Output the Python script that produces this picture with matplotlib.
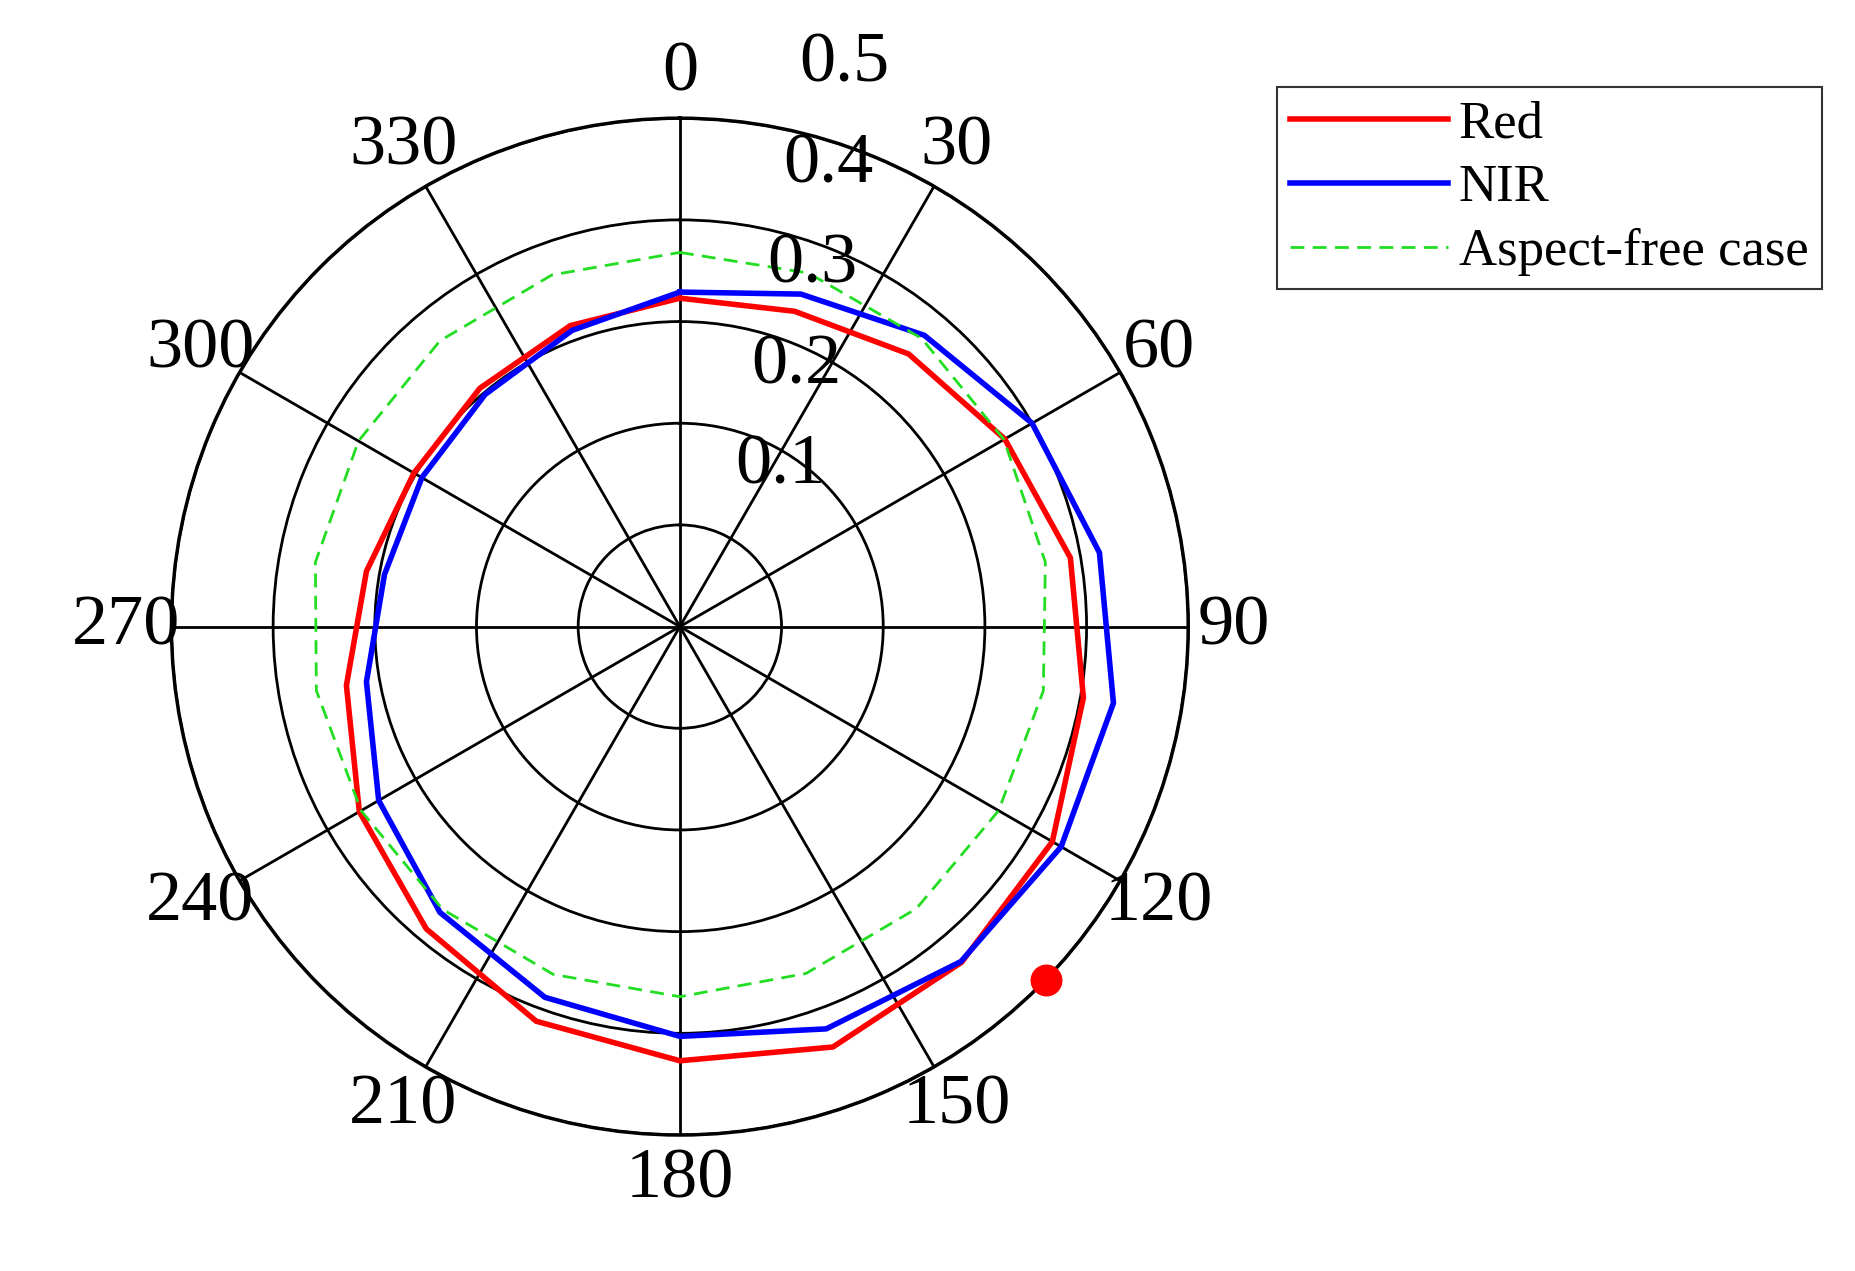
import numpy as np
import matplotlib
matplotlib.use("Agg")
import matplotlib.pyplot as plt
from matplotlib.transforms import offset_copy

plt.rcParams['font.family'] = ['Liberation Serif', 'DejaVu Serif']

angles_deg = [0, 20, 40, 60, 80, 100, 120, 140, 160, 180, 200, 220, 240, 260, 280, 300, 320, 340]
red = [0.323, 0.330, 0.350, 0.369, 0.390, 0.403, 0.423, 0.431, 0.440, 0.427, 0.413, 0.388, 0.364, 0.333, 0.313, 0.302, 0.306, 0.315]
nir = [0.329, 0.348, 0.374, 0.400, 0.419, 0.433, 0.433, 0.430, 0.421, 0.403, 0.388, 0.367, 0.342, 0.313, 0.295, 0.293, 0.298, 0.310]
aspect_free = [0.368, 0.370, 0.370, 0.368, 0.365, 0.363, 0.362, 0.362, 0.363, 0.364, 0.364, 0.363, 0.362, 0.363, 0.364, 0.365, 0.367, 0.368]
dot_angle, dot_r = 134, 0.5
theta_ticks = [0, 30, 60, 90, 120, 150, 180, 210, 240, 270, 300, 330]
r_ticks = [0.1, 0.2, 0.3, 0.4, 0.5]

def closed(a, v):
    t = np.deg2rad(np.array(a + [a[0]]))
    return t, np.array(v + [v[0]])

fig = plt.figure(figsize=(18.55, 12.71), dpi=100)
ax = fig.add_axes([0.09, 0.107, 0.553, 0.80], projection='polar')
ax.set_theta_zero_location('N')
ax.set_theta_direction(-1)
ax.set_ylim(0, 0.5)

t, v = closed(angles_deg, red)
ax.plot(t, v, color='red', lw=4, label='Red')
t, v = closed(angles_deg, nir)
ax.plot(t, v, color='blue', lw=4, label='NIR')
t, v = closed(angles_deg, aspect_free)
ax.plot(t, v, color='#22dd22', lw=2, ls=(0, (5, 3)), label='Aspect-free case')
ax.plot(np.deg2rad(dot_angle), dot_r, 'o', color='red', ms=22, clip_on=False, zorder=5)

ax.set_thetagrids(theta_ticks, [str(x) for x in theta_ticks], fontsize=52)
ax.tick_params(axis='x', pad=22)
ax.set_rgrids(r_ticks, ['' for x in r_ticks])
tr = offset_copy(ax.transData, fig=fig, x=85, y=60, units='dots')
for r in r_ticks:
    ax.text(np.deg2rad(9), r, f'{r:.1f}', transform=tr, ha='center', va='center',
            fontsize=52, clip_on=False)
ax.grid(True, color='black', lw=2)
ax.spines['polar'].set_linewidth(2.5)

leg = fig.legend(loc='upper left', bbox_to_anchor=(0.674, 0.952), fontsize=38,
                 fancybox=False, edgecolor='black', handlelength=3.0, borderpad=0.25,
                 labelspacing=0.3, handletextpad=0.2)
leg.get_frame().set_linewidth(1.5)

fig.savefig('out.png', dpi=100)
